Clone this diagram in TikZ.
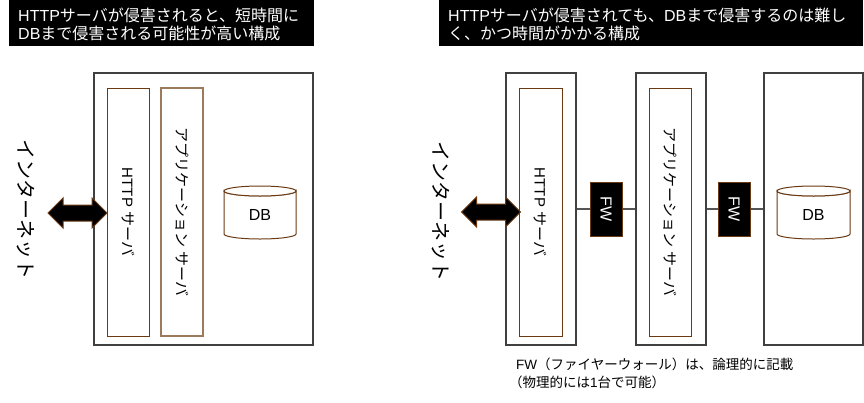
\documentclass[tikz,border=0pt]{standalone}
\usepackage{fontspec}
\setmainfont{Noto Sans CJK JP}
\newfontfamily\lat{Liberation Sans}
\usetikzlibrary{shapes.arrows}
\definecolor{boxgray}{HTML}{404040}
\definecolor{brownA}{HTML}{6B3A12}
\definecolor{brownB}{HTML}{9C7A5C}
\definecolor{linkgray}{HTML}{555555}
\begin{document}
\begin{tikzpicture}[x=1pt,y=-1pt,
  titlebox/.style={fill=black,draw=none,inner sep=0,anchor=north west},
  titletext/.style={text=white,inner sep=0,anchor=base west,font=\fontsize{16}{18}\selectfont},
  outerbox/.style={draw=boxgray,line width=1.3pt,fill=white,inner sep=0},
  innerbox/.style={draw=brownA,line width=0.8pt,inner sep=0,font=\fontsize{15}{17}\selectfont},
  innerboxB/.style={innerbox,draw=brownB,line width=1.3pt},
  nettext/.style={inner sep=0,font=\fontsize{20}{22}\selectfont},
  fwbox/.style={fill=black,draw=brownA,line width=1pt,text=white,inner sep=0,minimum width=32pt,minimum height=54pt,font=\fontsize{16}{18}\selectfont\lat},
  bigarrow/.style={double arrow,fill=black,draw=brownA,line width=1pt,inner xsep=0pt,inner ysep=7.5pt,double arrow head extend=7pt,minimum height=59pt},
  cyl/.style={draw=brownA,line width=1pt,fill=white},
  dbtext/.style={inner sep=0,font=\fontsize{16}{18}\selectfont\lat},
  link/.style={draw=linkgray,line width=1.6pt},
  notetext/.style={inner sep=0,anchor=base west,font=\fontsize{13.5}{15}\selectfont}
]
\useasboundingbox (0,0) rectangle (864,402);
% titles
\node[titlebox,minimum width=305pt,minimum height=46pt] (T1) at (9,0) {};
\node[titletext] (T1a) at (18,21) {{\lat HTTP}サーバが侵害されると、短時間に};
\node[titletext] (T1b) at (18,39) {{\lat DB}まで侵害される可能性が高い構成};
\node[titlebox,minimum width=424pt,minimum height=46pt] (T2) at (439,0) {};
\node[titletext] (T2a) at (448,21) {{\lat HTTP}サーバが侵害されても、{\lat DB}まで侵害するのは難し};
\node[titletext] (T2b) at (448,39) {く、かつ時間がかかる構成};

% ---------- left diagram ----------
\node[outerbox,minimum width=219pt,minimum height=272pt] (L) at (203.5,209) {};
\node[innerbox,minimum width=42pt,minimum height=248pt] (LH) at (128,212) {\rotatebox[origin=c]{-90}{{\lat HTTP }サーバ}};
\node[innerboxB,minimum width=42pt,minimum height=248pt] (LA) at (182,212) {\rotatebox[origin=c]{-90}{アプリケーション{\lat\ }サーバ}};
\draw[cyl] (224,191) -- (224,234) arc[start angle=180,end angle=360,x radius=36pt,y radius=5pt] -- (296,191) arc[start angle=0,end angle=-180,x radius=36pt,y radius=5pt] -- cycle;
\draw[cyl] (260,191) ellipse[x radius=36pt,y radius=5pt];
\node[dbtext] (LD) at (260,215) {DB};
\node[nettext] (LN) at (26,209) {\rotatebox[origin=c]{-90}{インターネット}};
\node[bigarrow] (LArr) at (77.5,213) {};

% ---------- right diagram ----------
\node[outerbox,minimum width=70pt,minimum height=272pt] (R1) at (541,209) {};
\node[outerbox,minimum width=70pt,minimum height=272pt] (R2) at (671,209) {};
\node[outerbox,minimum width=99pt,minimum height=272pt] (R3) at (813.5,209) {};
\node[innerbox,minimum width=43pt,minimum height=248pt] (RH) at (540.5,212) {\rotatebox[origin=c]{-90}{{\lat HTTP }サーバ}};
\node[innerbox,minimum width=42pt,minimum height=248pt] (RA) at (670,212) {\rotatebox[origin=c]{-90}{アプリケーション{\lat\ }サーバ}};
\node[fwbox] (FW1) at (606,209) {\rotatebox[origin=c]{-90}{FW}};
\node[fwbox] (FW2) at (734,209) {\rotatebox[origin=c]{-90}{FW}};
\draw[link] (R1) -- (FW1);
\draw[link] (FW1) -- (R2);
\draw[link] (R2) -- (FW2);
\draw[link] (FW2) -- (R3);
\draw[cyl] (777,191) -- (777,234) arc[start angle=180,end angle=360,x radius=36.5pt,y radius=5pt] -- (850,191) arc[start angle=0,end angle=-180,x radius=36.5pt,y radius=5pt] -- cycle;
\draw[cyl] (813.5,191) ellipse[x radius=36.5pt,y radius=5pt];
\node[dbtext] (RD) at (813.5,215) {DB};
\node[nettext] (RN) at (441,211) {\rotatebox[origin=c]{-90}{インターネット}};
\node[bigarrow] (RArr) at (491,212) {};

% note
\node[notetext] (N1) at (516,369) {{\lat FW}（ファイヤーウォール）は、論理的に記載};
\node[notetext] (N2) at (509,387) {（物理的には{\lat 1}台で可能）};
\end{tikzpicture}
\end{document}
